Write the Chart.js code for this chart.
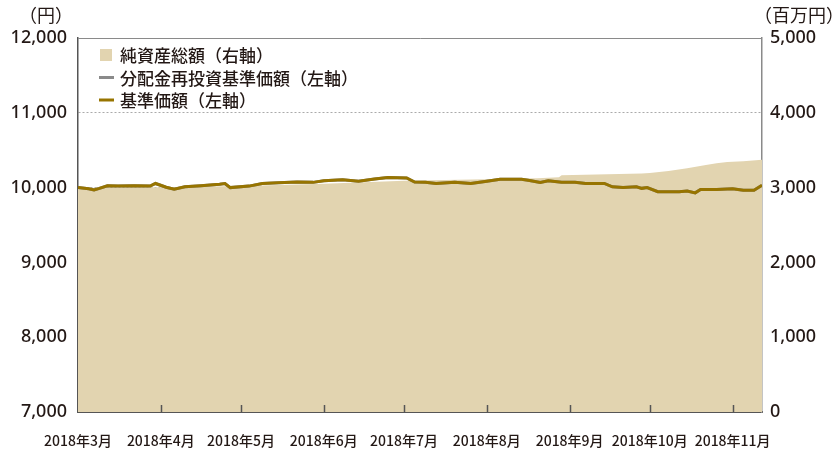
<!DOCTYPE html>
<html>
<head>
<meta charset="utf-8">
<script src="https://cdn.jsdelivr.net/npm/chart.js@4.4.0/dist/chart.umd.min.js"></script>
<style>
  html, body { margin: 0; padding: 0; background: #fff; }
</style>
</head>
<body>
<canvas id="NavChart" width="837" height="450"></canvas>
<script>
// 基準価額（左軸, 円）
const navDates = ["2018-03-01","2018-03-05","2018-03-07","2018-03-09","2018-03-12","2018-03-16","2018-03-22","2018-03-28","2018-03-30",
  "2018-04-03","2018-04-06","2018-04-10","2018-04-16","2018-04-23","2018-04-25","2018-04-27",
  "2018-05-04","2018-05-09","2018-05-15","2018-05-22","2018-05-28",
  "2018-06-01","2018-06-08","2018-06-14","2018-06-20","2018-06-25",
  "2018-07-02","2018-07-05","2018-07-09","2018-07-13","2018-07-20","2018-07-26",
  "2018-08-01","2018-08-06","2018-08-14","2018-08-17","2018-08-21","2018-08-24","2018-08-29",
  "2018-09-03","2018-09-07","2018-09-14","2018-09-17","2018-09-21","2018-09-26","2018-09-28","2018-09-30",
  "2018-10-04","2018-10-12","2018-10-15","2018-10-18","2018-10-20","2018-10-26",
  "2018-11-01","2018-11-05","2018-11-09","2018-11-12"];
const navValues = [10000,9985,9970,9990,10025,10020,10025,10020,10055,
  10005,9980,10010,10025,10045,10055,10000,
  10020,10055,10065,10075,10070,
  10090,10105,10085,10115,10135,
  10130,10075,10070,10055,10070,10055,
  10085,10110,10110,10095,10070,10090,10070,
  10070,10055,10055,10010,10000,10010,9990,10000,
  9945,9945,9955,9930,9975,9975,
  9985,9965,9965,10030];
// 分配金再投資基準価額（左軸）: 分配なしのため基準価額と同じ
const reinvValues = navValues.slice();

// 純資産総額（右軸, 百万円）
const assetDates = ["2018-03-01","2018-04-01","2018-05-01","2018-06-01","2018-07-01","2018-08-01","2018-08-20","2018-08-28","2018-08-29",
  "2018-09-28","2018-10-01","2018-10-08","2018-10-15","2018-10-22","2018-10-26","2018-10-30","2018-11-05","2018-11-12"];
const assetValues = [2995,3005,3020,3050,3090,3110,3125,3140,3165,
  3190,3195,3222,3258,3302,3325,3342,3352,3373];

const monthStarts = ["2018-03-01","2018-04-01","2018-05-01","2018-06-01","2018-07-01","2018-08-01","2018-09-01","2018-10-01","2018-11-01"];
const monthLabels = ["2018年3月","2018年4月","2018年5月","2018年6月","2018年7月","2018年8月","2018年9月","2018年10月","2018年11月"];
const endDate = "2018-11-12";

const dayOf = s => (Date.parse(s) - Date.parse("2018-03-01")) / 86400000;
const toPoints = (dates, vals) => dates.map((d, i) => ({ x: dayOf(d), y: vals[i] }));

const decor = {
  id: "decor",
  afterDatasetsDraw(chart) {
    const { ctx, chartArea: a, scales: { x } } = chart;
    ctx.save();
    // inner tick marks on the date axis
    ctx.strokeStyle = "#555";
    ctx.lineWidth = 1.5;
    x.ticks.forEach((t, i) => {
      if (i === 0) return;
      const px = Math.round(x.getPixelForValue(t.value)) + 0.5;
      ctx.beginPath();
      ctx.moveTo(px, a.bottom);
      ctx.lineTo(px, a.bottom - 7);
      ctx.stroke();
    });
    // legend
    ctx.font = "500 17px 'Noto Sans CJK JP'";
    ctx.textBaseline = "middle";
    ctx.textAlign = "left";
    chart.data.datasets.forEach((ds, i) => {
      const y = a.top + 17 + i * 22.5;
      const bx = a.left + 22;
      if (ds.fill) {
        ctx.fillStyle = ds.backgroundColor;
        ctx.fillRect(bx, y - 6, 12, 12);
      } else {
        ctx.strokeStyle = ds.borderColor;
        ctx.lineWidth = 3;
        ctx.beginPath();
        ctx.moveTo(bx - 1, y);
        ctx.lineTo(bx + 14, y);
        ctx.stroke();
      }
      ctx.fillStyle = "#231815";
      ctx.fillText(ds.label, bx + 20, y + 1);
    });
    // units
    ctx.font = "18px 'Noto Sans CJK JP'";
    ctx.textAlign = "center";
    ctx.fillText("（円）", 46, 15);
    ctx.textAlign = "right";
    ctx.fillText("（百万円）", 844, 15);
    ctx.restore();
  }
};

const navCanvas = document.getElementById("NavChart").getContext("2d");
const navChart = new Chart(navCanvas, {
  type: "line",
  data: {
    datasets: [{
      label: "純資産総額（右軸）",
      data: toPoints(assetDates, assetValues),
      yAxisID: "y1",
      fill: "start",
      backgroundColor: "#e2d4b0",
      borderWidth: 0,
      pointRadius: 0,
      order: 3
    }, {
      label: "分配金再投資基準価額（左軸）",
      data: toPoints(navDates, reinvValues),
      yAxisID: "y",
      fill: false,
      borderColor: "#8a8a8a",
      borderWidth: 3,
      pointRadius: 0,
      order: 2
    }, {
      label: "基準価額（左軸）",
      data: toPoints(navDates, navValues),
      yAxisID: "y",
      fill: false,
      borderColor: "#977400",
      borderWidth: 3,
      pointRadius: 0,
      order: 1
    }]
  },
  options: {
    responsive: false,
    animation: false,
    devicePixelRatio: 1,
    layout: { padding: { top: 38, left: 0, right: 0, bottom: 0 } },
    plugins: {
      legend: { display: false },
      tooltip: { enabled: false }
    },
    scales: {
      x: {
        type: "linear",
        min: 0,
        max: dayOf(endDate),
        afterBuildTicks: s => { s.ticks = monthStarts.map(d => ({ value: dayOf(d) })); },
        afterFit: s => { s.height = 38; },
        grid: { display: false },
        border: { display: true, color: "#555", width: 2 },
        ticks: {
          autoSkip: false,
          maxRotation: 0,
          padding: 12,
          color: "#231815",
          font: { family: "'Noto Sans CJK JP'", size: 14, weight: "500" },
          callback: (v, i) => monthLabels[i]
        }
      },
      y: {
        position: "left",
        min: 7000,
        max: 12000,
        afterFit: s => { s.width = 78; },
        grid: {
          drawTicks: false,
          color: c => c.tick && c.tick.value === 12000 ? "#8a8a8a" : "#aaaaaa",
          lineWidth: 1
        },
        border: {
          display: true, color: "#555", width: 1.5,
          dash: c => c.tick && c.tick.value === 12000 ? [] : [2, 2]
        },
        ticks: {
          stepSize: 1000,
          padding: 11,
          color: "#231815",
          font: { family: "'Noto Sans'", size: 18, weight: "500" },
          callback: v => v.toLocaleString("en-US")
        }
      },
      y1: {
        position: "right",
        min: 0,
        max: 5000,
        afterFit: s => { s.width = 75; },
        grid: { display: false, drawTicks: false },
        border: { display: true, color: "#8a8a8a", width: 1.5 },
        ticks: {
          stepSize: 1000,
          padding: 8,
          color: "#231815",
          font: { family: "'Noto Sans'", size: 18, weight: "500" },
          callback: v => v.toLocaleString("en-US")
        }
      }
    }
  },
  plugins: [decor]
});
</script>
</body>
</html>
